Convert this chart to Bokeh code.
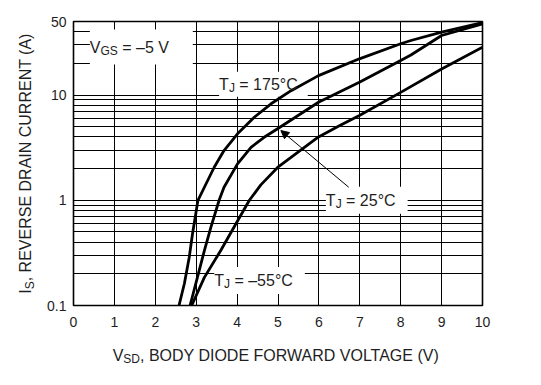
import math
from bokeh.plotting import figure
from bokeh.models import Range1d, FixedTicker, Label, Arrow, NormalHead
from bokeh.embed import file_html
from bokeh.resources import INLINE

# ---------------- data ----------------
v_175 = [2.58, 2.71, 2.83, 2.91, 2.99, 3.04, 3.20, 3.44, 3.68, 4.01, 4.42, 4.83,
         5.32, 5.99, 6.99, 8.00, 8.25, 9.00, 10.0]
i_175 = [0.10, 0.161, 0.288, 0.48, 0.743, 0.99, 1.33, 2.06, 2.97, 4.28, 6.15, 8.26,
         11.0, 15.3, 22.1, 30.7, 33.0, 39.6, 48.7]

v_25 = [2.85, 3.03, 3.20, 3.36, 3.56, 3.68, 4.01, 4.34, 4.66, 4.99, 5.99, 6.99,
        8.00, 8.25, 9.00, 10.0]
i_25 = [0.10, 0.185, 0.333, 0.555, 1.0, 1.33, 2.22, 3.19, 3.97, 4.78, 8.55, 13.2,
        21.3, 24.0, 36.8, 47.5]

v_m55 = [2.89, 3.20, 3.60, 3.93, 4.30, 4.58, 4.99, 5.99, 6.50, 6.99, 8.00, 9.00, 10.0]
i_m55 = [0.10, 0.185, 0.333, 0.56, 1.0, 1.4, 2.05, 4.0, 5.1, 6.4, 10.6, 17.7, 28.5]

x_ticks = [0, 1, 2, 3, 4, 5, 6, 7, 8, 9, 10]
y_ticks = [0.1, 1, 10, 50]
y_tick_labels = ["0.1", "1", "10", "50"]
y_minor = [0.2, 0.3, 0.4, 0.5, 0.6, 0.7, 0.8, 0.9,
           2, 3, 4, 5, 6, 7, 8, 9, 20, 30, 40]

FONT = "Liberation Sans"
TEXT = "#1e1e1e"

# Arial / Liberation Sans advance widths (per 1000 em)
W = {" ": 278, ",": 278, ".": 278, "=": 584, "\u2013": 556, "\u2212": 584, "\u00b0": 400,
     "(": 333, ")": 333, "A": 667, "B": 667, "C": 722, "D": 722, "E": 667, "F": 611,
     "G": 778, "H": 722, "I": 278, "J": 500, "K": 667, "L": 556, "M": 833, "N": 722,
     "O": 778, "P": 667, "R": 722, "S": 667, "T": 611, "U": 722, "V": 667, "W": 944,
     "Y": 667}
for d in "0123456789":
    W[d] = 556


def tw(s, size):
    return sum(W.get(c, 600) for c in s) * size / 1000.0


p = figure(width=533, height=377,
           x_range=Range1d(0, 10), y_range=Range1d(0.1, 50),
           y_axis_type="log", output_backend="svg", toolbar_location=None,
           min_border_left=73, min_border_right=51,
           min_border_top=21, min_border_bottom=72)
p.background_fill_color = "white"
p.border_fill_color = "white"
p.outline_line_color = "black"
p.outline_line_width = 1.6

# axes
xt = FixedTicker(ticks=x_ticks)
yt = FixedTicker(ticks=y_ticks, minor_ticks=y_minor)
p.xaxis.ticker = xt
p.yaxis.ticker = yt
p.yaxis.major_label_overrides = {t: l for t, l in zip(y_ticks, y_tick_labels)}
for ax in (p.xaxis[0], p.yaxis[0]):
    ax.axis_line_color = None
    ax.major_tick_line_color = None
    ax.minor_tick_line_color = None
    ax.major_label_text_font = FONT
    ax.major_label_text_font_size = "14px"
    ax.major_label_text_color = TEXT
p.xaxis.major_label_standoff = 5
p.yaxis.major_label_standoff = 1

# grid
p.xgrid.ticker = xt
p.ygrid.ticker = yt
p.xgrid.grid_line_color = "black"
p.ygrid.grid_line_color = "black"
p.ygrid.minor_grid_line_color = "black"
p.xgrid.grid_line_width = 1
p.ygrid.grid_line_width = 1
p.ygrid.minor_grid_line_width = 1

# curves
for vs, cs in ((v_175, i_175), (v_25, i_25), (v_m55, i_m55)):
    p.line(vs, cs, line_color="black", line_width=2.8, line_join="round")


def add_text(x, y, parts, size=16, angle=0.0, center=False, bg=False, pad=4,
             units="data", sides=None):
    sub = size * 0.75
    widths = [tw(t, sub if s else size) for t, s in parts]
    total = sum(widths)
    start = -total / 2.0 if center else 0.0
    if bg:
        full = "".join(t for t, _ in parts)
        p.add_layout(Label(x=x, y=y, x_units=units, y_units=units,
                           x_offset=start, y_offset=0, text=full,
                           text_font=FONT, text_font_size=f"{size}px",
                           text_color="white", text_baseline="alphabetic",
                           background_fill_color="white", padding=pad,
                           level="underlay"))
    pos = start
    for k, ((t, s), w) in enumerate(zip(parts, widths)):
        fs = sub if s else size
        lead = len(t) - len(t.lstrip(" "))
        shift = tw(" " * lead, fs)
        drop = 4 if s else 0
        if angle == 0:
            xo, yo = pos + shift, -drop
        else:
            xo, yo = drop, pos + shift
        lab = Label(x=x, y=y, x_units=units, y_units=units,
                    x_offset=xo, y_offset=yo, text=t.strip(" "), angle=angle,
                    text_font=FONT, text_font_size=f"{fs}px",
                    text_color=TEXT, text_align="left",
                    text_baseline="alphabetic")
        if sides is None:
            p.add_layout(lab)
        else:
            p.add_layout(lab, sides[k])
        pos += w


# in-plot labels
add_text(0.40, 28.6, [("V", False), ("GS", True), (" = \u20135 V", False)], bg=True, pad=9)
add_text(3.56, 12.7, [("T", False), ("J", True), (" = 175\u00b0C", False)], bg=True, pad=4)
add_text(6.17, 1.0, [("T", False), ("J", True), (" = 25\u00b0C", False)], bg=True, pad=5)
add_text(3.44, 0.173, [("T", False), ("J", True), (" = \u201355\u00b0C", False)], bg=True, pad=5)

p.add_layout(Arrow(end=NormalHead(size=8, fill_color="black", line_color="black", line_width=1),
                   x_start=6.73, y_start=1.33, x_end=5.07, y_end=4.6,
                   line_color="black", line_width=1))

# axis titles (with subscripts), placed in canvas pixels; kept in side panels
add_text(277, 354.5, [("V", False), ("SD", True), (", BODY DIODE FORWARD VOLTAGE (V)", False)],
         center=True, units="canvas", sides=["left", "below", "below"])
add_text(25, 163, [("I", False), ("S", True), (", REVERSE DRAIN CURRENT (A)", False)],
         angle=math.pi / 2, center=True, units="canvas", sides=["above", "right", "right"])

open("out.html", "w").write(file_html(p, INLINE))
